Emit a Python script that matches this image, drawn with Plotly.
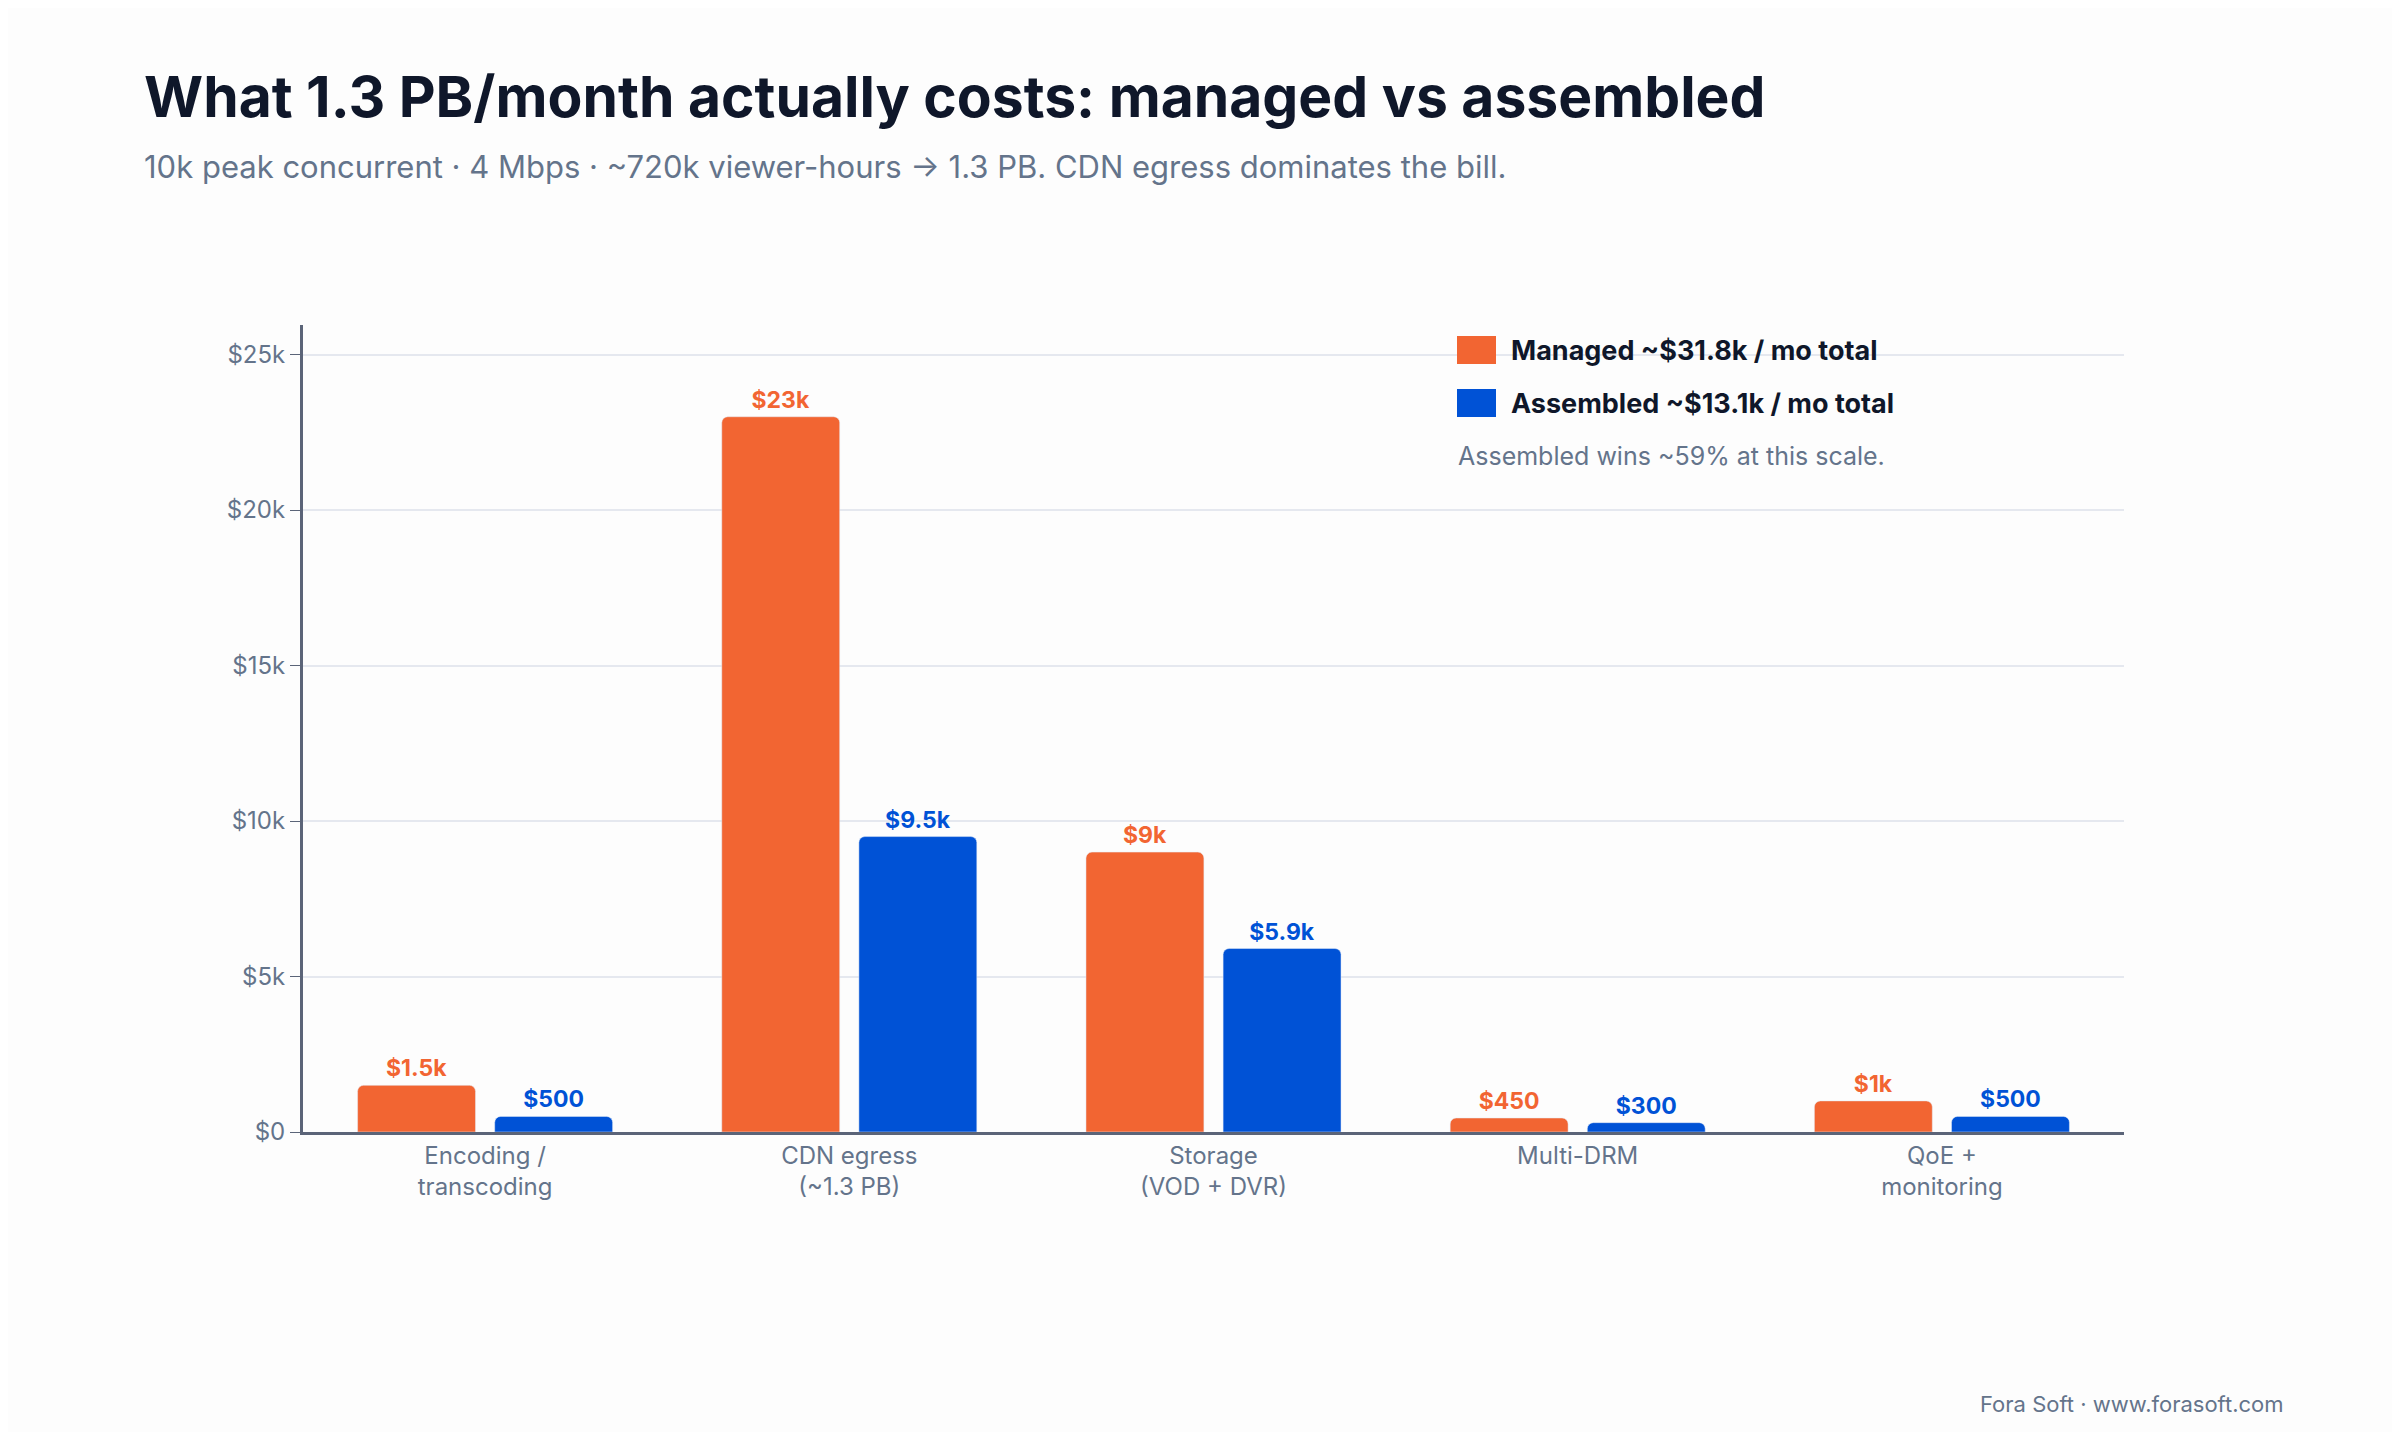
import plotly.graph_objects as go

categories = ["Encoding /<br>transcoding", "CDN egress<br>(~1.3 PB)", "Storage<br>(VOD + DVR)", "Multi-DRM", "QoE +<br>monitoring"]
managed = [1500, 23000, 9000, 450, 1000]
assembled = [500, 9500, 5900, 300, 500]
managed_labels = ["$1.5k", "$23k", "$9k", "$450", "$1k"]
assembled_labels = ["$500", "$9.5k", "$5.9k", "$300", "$500"]
series_names = ["Managed ~$31.8k / mo total", "Assembled ~$13.1k / mo total"]
tick_vals = [0, 5000, 10000, 15000, 20000, 25000]
tick_text = ["$0", "$5k", "$10k", "$15k", "$20k", "$25k"]

ORANGE = "#F26532"
BLUE = "#0052D6"
FONT = "Inter"
PW, PH, L, T = 1821, 807, 303, 325

def px(X):
    return (X - L) / PW

def py(Y):
    return 1 - (Y - T) / PH

fig = go.Figure()
fig.add_bar(x=categories, y=managed, name=series_names[0], marker=dict(color=ORANGE, cornerradius=6),
            text=managed_labels, textposition="outside", cliponaxis=False,
            textfont=dict(color=ORANGE, size=23, family=FONT, weight=700))
fig.add_bar(x=categories, y=assembled, name=series_names[1], marker=dict(color=BLUE, cornerradius=6),
            text=assembled_labels, textposition="outside", cliponaxis=False,
            textfont=dict(color=BLUE, size=23, family=FONT, weight=700))

fig.update_layout(
    width=2384, height=1424,
    paper_bgcolor="#fdfdfd", plot_bgcolor="#fdfdfd",
    margin=dict(l=295, r=268, t=317, b=300),
    barmode="group", bargap=0.247, bargroupgap=0.14,
    font=dict(family=FONT, color="#64748b", size=24),
    showlegend=False,
    xaxis=dict(showline=True, linecolor="#5b6478", linewidth=3, ticks="", tickfont=dict(size=24, color="#64748b")),
    yaxis=dict(range=[0, 25950], tickvals=tick_vals, ticktext=tick_text, showgrid=True, gridcolor="#e5e8ef",
               gridwidth=1.5, showline=True, linecolor="#5b6478", linewidth=3, ticks="outside", ticklen=10,
               tickcolor="#5b6478", tickfont=dict(size=24, color="#64748b"), zeroline=False),
)
# custom legend
for (y0, y1), col, name in zip([(336, 364), (389, 417)], [ORANGE, BLUE], series_names):
    fig.add_shape(type="rect", xref="paper", yref="paper", x0=px(1457), x1=px(1496), y0=py(y1), y1=py(y0),
                  fillcolor=col, line=dict(width=0))
    fig.add_annotation(text="<b>" + name + "</b>", xref="paper", yref="paper", x=px(1509), y=py((y0 + y1) / 2),
                       showarrow=False, xanchor="left", yanchor="middle",
                       font=dict(size=27, color="#0f172a", family=FONT))
fig.add_annotation(text="Assembled wins ~59% at this scale.", xref="paper", yref="paper",
                   x=px(1456), y=py(456), showarrow=False, xanchor="left", yanchor="middle",
                   font=dict(size=25, color="#64748b", family=FONT))
fig.add_annotation(text="<b>What 1.3 PB/month actually costs: managed vs assembled</b>", xref="paper", yref="paper",
                   x=px(142), y=py(97), showarrow=False, xanchor="left", yanchor="middle",
                   font=dict(size=57, color="#0f172a", family=FONT))
fig.add_annotation(text="10k peak concurrent · 4 Mbps · ~720k viewer-hours → 1.3 PB. CDN egress dominates the bill.",
                   xref="paper", yref="paper", x=px(142), y=py(167), showarrow=False,
                   xanchor="left", yanchor="middle", font=dict(size=31, color="#64748b", family=FONT))
fig.add_annotation(text="Fora Soft · www.forasoft.com", xref="paper", yref="paper",
                   x=px(2286), y=py(1404), showarrow=False, xanchor="right", yanchor="middle",
                   font=dict(size=22, color="#64748b", family=FONT))
fig.write_html("out.html")
